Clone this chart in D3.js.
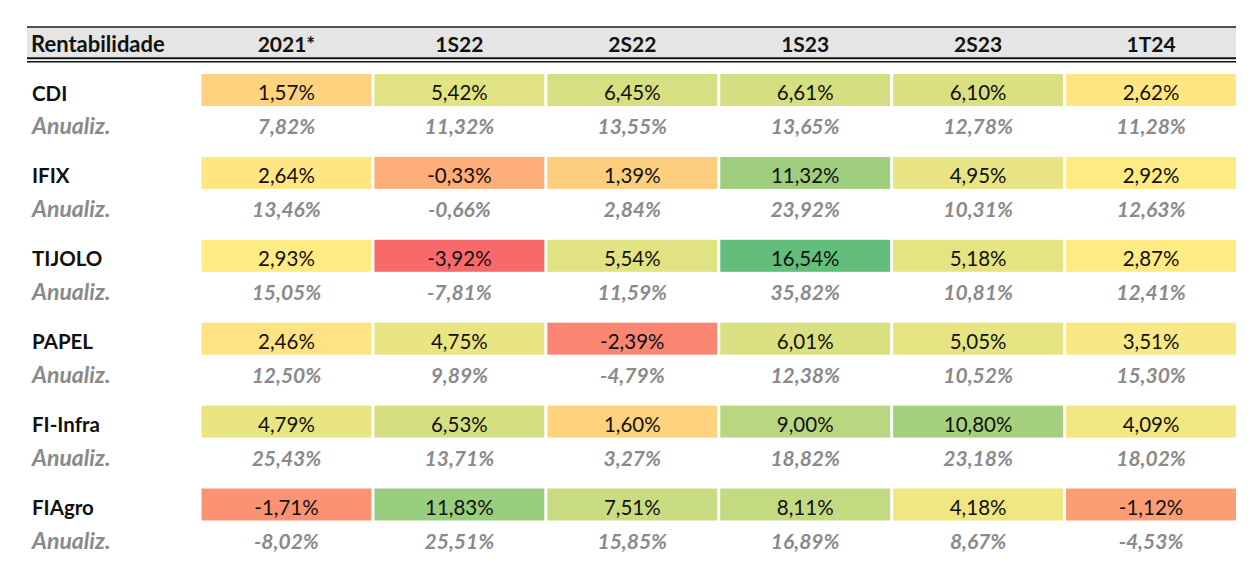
<!DOCTYPE html>
<html>
<head>
<meta charset="utf-8">
<script src="https://cdn.jsdelivr.net/npm/d3@7"></script>
<style>
  html, body { margin: 0; padding: 0; background: #fff; }
  svg { display: block; }
</style>
</head>
<body>
<svg id="chart" width="1260" height="570"></svg>
<script>
// ---- DATA ----
const headerLabel = "Rentabilidade";
const periods = ["2021*", "1S22", "2S22", "1S23", "2S23", "1T24"];
const categories = ["CDI", "IFIX", "TIJOLO", "PAPEL", "FI-Infra", "FIAgro"];
const subLabel = "Anualiz.";
const cdiValues    = [1.57, 5.42, 6.45, 6.61, 6.10, 2.62];
const cdiAnnual    = [7.82, 11.32, 13.55, 13.65, 12.78, 11.28];
const ifixValues   = [2.64, -0.33, 1.39, 11.32, 4.95, 2.92];
const ifixAnnual   = [13.46, -0.66, 2.84, 23.92, 10.31, 12.63];
const tijoloValues = [2.93, -3.92, 5.54, 16.54, 5.18, 2.87];
const tijoloAnnual = [15.05, -7.81, 11.59, 35.82, 10.81, 12.41];
const papelValues  = [2.46, 4.75, -2.39, 6.01, 5.05, 3.51];
const papelAnnual  = [12.50, 9.89, -4.79, 12.38, 10.52, 15.30];
const infraValues  = [4.79, 6.53, 1.60, 9.00, 10.80, 4.09];
const infraAnnual  = [25.43, 13.71, 3.27, 18.82, 23.18, 18.02];
const agroValues   = [-1.71, 11.83, 7.51, 8.11, 4.18, -1.12];
const agroAnnual   = [-8.02, 25.51, 15.85, 16.89, 8.67, -4.53];

const valuesByCat = [cdiValues, ifixValues, tijoloValues, papelValues, infraValues, agroValues];
const annualByCat = [cdiAnnual, ifixAnnual, tijoloAnnual, papelAnnual, infraAnnual, agroAnnual];

// ---- LAYOUT ----
const svg = d3.select("#chart");
const font = "Lato, 'Open Sans', sans-serif";
const tableLeft = 27, tableRight = 1236;
const colStart = 201.5;
const headTop = 27, headBottom = 57;
const fmt = v => d3.format(".2f")(v).replace(".", ",").replace("\u2212", "-") + "%";

const x = d3.scaleBand().domain(periods).range([colStart, tableRight + 3]).paddingInner(0).paddingOuter(0);
const cellGap = 3;
const y = d3.scaleBand().domain(categories).range([74, 74 + 82.9 * categories.length]).paddingInner(0);
const cellH = 32;

const all = valuesByCat.flat();
const color = d3.scaleLinear()
  .domain([d3.min(all), 2.9, d3.max(all)])
  .range(["#F8696B", "#FFEB84", "#63BE7B"])
  .interpolate(d3.interpolateRgb);

// header band
svg.append("rect").attr("x", tableLeft).attr("y", headTop).attr("width", tableRight - tableLeft)
  .attr("height", headBottom - headTop).attr("fill", "#e5e5e5");
svg.append("line").attr("x1", tableLeft).attr("x2", tableRight).attr("y1", headTop).attr("y2", headTop)
  .attr("stroke", "#1a1a1a").attr("stroke-width", 1.4);
svg.append("line").attr("x1", tableLeft).attr("x2", tableRight).attr("y1", 58.3).attr("y2", 58.3)
  .attr("stroke", "#111").attr("stroke-width", 2);
svg.append("line").attr("x1", tableLeft).attr("x2", tableRight).attr("y1", 61.8).attr("y2", 61.8)
  .attr("stroke", "#111").attr("stroke-width", 1.5);

svg.append("text").attr("x", 31).attr("y", 52).text(headerLabel)
  .attr("font-family", font).attr("font-weight", 700).attr("font-size", 22).attr("fill", "#111");
svg.selectAll("text.period").data(periods).join("text").attr("class", "period")
  .attr("x", d => x(d) + (x.bandwidth() - cellGap) / 2).attr("y", 52)
  .attr("text-anchor", "middle").text(d => d)
  .attr("font-family", font).attr("font-weight", 700).attr("font-size", 21).attr("fill", "#111");

// rows
const rows = svg.selectAll("g.row").data(categories).join("g").attr("class", "row")
  .attr("transform", d => `translate(0,${y(d)})`);

rows.append("text").attr("x", 32).attr("y", 26.5).text(d => d)
  .attr("font-family", font).attr("font-weight", 700).attr("font-size", 20.5).attr("fill", "#111");
rows.append("text").attr("x", 32).attr("y", 60).text(subLabel)
  .attr("font-family", font).attr("font-weight", 700).attr("font-style", "italic")
  .attr("font-size", 23).attr("fill", "#8a8a8a");

rows.each(function(cat, i) {
  const g = d3.select(this);
  const vals = valuesByCat[i].map((v, j) => ({ p: periods[j], v }));
  const ann = annualByCat[i].map((v, j) => ({ p: periods[j], v }));
  g.selectAll("rect.cell").data(vals).join("rect").attr("class", "cell")
    .attr("x", d => x(d.p)).attr("y", 0)
    .attr("width", x.bandwidth() - cellGap).attr("height", cellH)
    .attr("fill", d => color(d.v));
  g.selectAll("text.val").data(vals).join("text").attr("class", "val")
    .attr("x", d => x(d.p) + (x.bandwidth() - cellGap) / 2).attr("y", 26)
    .attr("text-anchor", "middle").text(d => fmt(d.v))
    .attr("font-family", font).attr("font-size", 20.5).attr("fill", "#111");
  g.selectAll("text.ann").data(ann).join("text").attr("class", "ann")
    .attr("x", d => x(d.p) + (x.bandwidth() - cellGap) / 2).attr("y", 60)
    .attr("text-anchor", "middle").text(d => fmt(d.v))
    .attr("font-family", font).attr("font-weight", 700).attr("font-style", "italic")
    .attr("font-size", 21).attr("fill", "#8a8a8a");
});
</script>
</body>
</html>
